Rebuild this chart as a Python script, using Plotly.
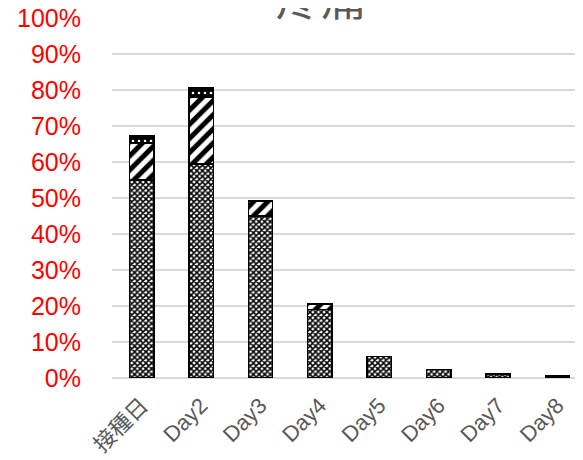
import plotly.graph_objects as go

categories = ["接種日", "Day2", "Day3", "Day4", "Day5", "Day6", "Day7", "Day8"]
mild = [0.550, 0.595, 0.450, 0.190, 0.060, 0.024, 0.011, 0.006]
moderate = [0.103, 0.185, 0.042, 0.015, 0.0, 0.0, 0.0, 0.0]
severe = [0.019, 0.025, 0.0, 0.0, 0.0, 0.0, 0.0, 0.0]
y_ticks = [i / 10 for i in range(11)]
y_labels = [f"{i * 10}%" for i in range(11)]

W, H = 575, 452
L, T, B = 104, 10, 82
PW, PH = W - L, H - T - B

fig = go.Figure()
fig.add_trace(go.Bar(
    x=categories, y=mild, name="mild",
    marker=dict(color="white", line=dict(color="black", width=1.5),
                pattern=dict(shape="x", size=4, solidity=0.62, fgcolor="black",
                             bgcolor="white", fgopacity=1)),
))
fig.add_trace(go.Bar(
    x=categories, y=moderate, name="moderate",
    marker=dict(color="white", line=dict(color="black", width=1.5),
                pattern=dict(shape="/", size=10, solidity=0.5, fgcolor="black",
                             bgcolor="white", fgopacity=1)),
))
fig.add_trace(go.Bar(
    x=categories, y=severe, name="severe",
    marker=dict(color="black", line=dict(color="black", width=1.5),
                pattern=dict(shape=".", size=6, solidity=0.15, fgcolor="white",
                             bgcolor="black", fgopacity=1)),
))

fig.update_layout(
    barmode="stack",
    bargap=0.59,
    width=W, height=H,
    margin=dict(l=L, r=0, t=T, b=B, autoexpand=False),
    paper_bgcolor="white", plot_bgcolor="white",
    showlegend=False,
    font=dict(family="Liberation Sans, Noto Sans CJK TC", color="#595959"),
    xaxis=dict(
        type="category", range=[-0.5, 7.43], tickangle=-45,
        tickfont=dict(size=22, color="#595959", family="Liberation Sans, Noto Sans CJK TC"),
        showgrid=False, showline=False, ticks="outside", ticklen=5,
        tickcolor="rgba(0,0,0,0)", automargin=False,
    ),
    yaxis=dict(
        range=[0, 1], tickvals=y_ticks, ticktext=y_labels,
        tickfont=dict(size=25, color="red", family="Liberation Sans"),
        showgrid=True, gridcolor="#d9d9d9", gridwidth=1.5,
        zeroline=True, zerolinecolor="#d9d9d9", zerolinewidth=1.5,
        ticks="outside", ticklen=25, tickcolor="rgba(0,0,0,0)",
        showline=False, automargin=False, ticklabeloverflow="allow",
    ),
    annotations=[dict(
        text="疼痛", xref="paper", yref="paper", x=(312 - L) / PW, y=1 + 23 / PH,
        xanchor="center", yanchor="middle", showarrow=False,
        font=dict(size=46, color="#595959", family="Noto Sans CJK TC"),
    )],
)

fig.write_html("out.html")
